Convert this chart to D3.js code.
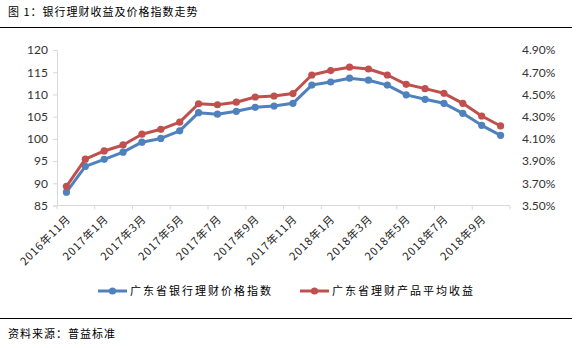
<!DOCTYPE html>
<html><head><meta charset="utf-8">
<script src="https://cdn.jsdelivr.net/npm/d3@7/dist/d3.min.js"></script>
<style>
body{margin:0;background:#fff;}
svg{display:block;}
.cn{font-family:"Noto Sans CJK SC",sans-serif;}
</style></head>
<body>
<svg id="c" width="578" height="348"></svg>
<script>
const categories = ["2016年11月","2016年12月","2017年1月","2017年2月","2017年3月","2017年4月","2017年5月","2017年6月","2017年7月","2017年8月","2017年9月","2017年10月","2017年11月","2017年12月","2018年1月","2018年2月","2018年3月","2018年4月","2018年5月","2018年6月","2018年7月","2018年8月","2018年9月","2018年10月"];
const priceIndex = [88.0,93.8,95.4,97.0,99.25,100.1,101.8,105.9,105.55,106.2,107.1,107.4,108.0,112.1,112.8,113.65,113.2,112.1,109.9,108.9,108.0,105.75,103.05,100.8];
const avgYield = [3.673,3.917,3.991,4.045,4.142,4.186,4.250,4.416,4.407,4.430,4.477,4.486,4.508,4.675,4.715,4.745,4.729,4.675,4.591,4.552,4.510,4.420,4.306,4.216];
const leftTicks = [85,90,95,100,105,110,115,120];
const rightTicks = [3.5,3.7,3.9,4.1,4.3,4.5,4.7,4.9];
const seriesNames = ["广东省银行理财价格指数","广东省理财产品平均收益"];
const titleText = "图 1：银行理财收益及价格指数走势";
const sourceText = "资料来源：普益标准";
const colors = ["#4F81BD","#C0504D"];

const svg = d3.select("#c");
const L = 57, R = 510, T = 50, B = 205.5;
const x = d3.scaleBand().domain(categories).range([L, R]).paddingInner(0).paddingOuter(0);
const yL = d3.scaleLinear().domain([85,120]).range([B, T]);
const yR = d3.scaleLinear().domain([3.5,4.9]).range([B, T]);
const cx = d => x(d) + x.bandwidth()/2;

// title + rules
svg.append("text").attr("class","cn").attr("x",8).attr("y",16)
  .attr("font-size",11).attr("letter-spacing",1).attr("fill","#000").text(titleText);
svg.append("line").attr("x1",0).attr("x2",572).attr("y1",27.5).attr("y2",27.5).attr("stroke","#000").attr("stroke-width",1.2);
svg.append("line").attr("x1",0).attr("x2",572).attr("y1",318.5).attr("y2",318.5).attr("stroke","#000").attr("stroke-width",1.2);
svg.append("text").attr("class","cn").attr("x",8).attr("y",338)
  .attr("font-size",11).attr("letter-spacing",1).attr("fill","#000").text(sourceText);

// left axis
const gl = svg.append("g").attr("transform",`translate(${L},0)`)
  .call(d3.axisLeft(yL).tickValues(leftTicks).tickSize(4).tickPadding(5).tickFormat(d3.format("d")));
gl.select(".domain").attr("stroke","#D9D9D9");
gl.selectAll(".tick line").attr("stroke","#D9D9D9");
gl.selectAll("text").attr("font-family","Lato, 'Liberation Sans', sans-serif").attr("font-size",12).attr("fill","#333");

// right axis labels
const gr = svg.append("g").attr("transform",`translate(${R},0)`)
  .call(d3.axisRight(yR).tickValues(rightTicks).tickSize(0).tickPadding(12).tickFormat(d => d.toFixed(2)+"%"));
gr.select(".domain").remove();
gr.selectAll("text").attr("font-family","Lato, 'Liberation Sans', sans-serif").attr("font-size",12).attr("fill","#333");

// bottom axis
const gb = svg.append("g").attr("transform",`translate(0,${B})`)
  .call(d3.axisBottom(x).tickValues(categories.filter((d,i)=>i%2===0)).tickSize(0).tickPadding(0));
gb.select(".domain").attr("stroke","#D9D9D9").attr("d",`M${L},0H${R}`);
gb.selectAll(".tick text")
  .attr("class","cn").attr("font-size",11).attr("letter-spacing",0.9).attr("fill","#222")
  .attr("text-anchor","end").attr("dy",0).attr("y",0)
  .attr("transform","translate(5,14) rotate(-45)");
// tick marks at category boundaries every 2
const tickPos = categories.filter((d,i)=>i%2===0).map(d=>x(d)).concat([R]);
svg.append("g").selectAll("line").data(tickPos).join("line")
  .attr("x1",d=>d).attr("x2",d=>d).attr("y1",B).attr("y2",B+4).attr("stroke","#D9D9D9");

// lines
const series = [
  {vals: priceIndex, y: yL, color: colors[0]},
  {vals: avgYield, y: yR, color: colors[1]}
];
series.forEach(s => {
  const pts = categories.map((c,i)=>[cx(c), s.y(s.vals[i])]);
  svg.append("path").attr("d", d3.line()(pts)).attr("fill","none")
    .attr("stroke", s.color).attr("stroke-width",3).attr("stroke-linejoin","round");
  svg.append("g").selectAll("circle").data(pts).join("circle")
    .attr("cx",d=>d[0]).attr("cy",d=>d[1]).attr("r",3.6).attr("fill",s.color);
});

// legend
const legendItems = [{x:98, name:seriesNames[0], color:colors[0]},{x:300, name:seriesNames[1], color:colors[1]}];
const ly = 291;
legendItems.forEach(it => {
  svg.append("line").attr("x1",it.x).attr("x2",it.x+29).attr("y1",ly).attr("y2",ly)
    .attr("stroke",it.color).attr("stroke-width",3);
  svg.append("circle").attr("cx",it.x+14.5).attr("cy",ly).attr("r",3.6).attr("fill",it.color);
  svg.append("text").attr("class","cn").attr("x",it.x+32).attr("y",ly+4)
    .attr("font-size",11).attr("letter-spacing",2).attr("fill","#000").text(it.name);
});
</script>
</body></html>
